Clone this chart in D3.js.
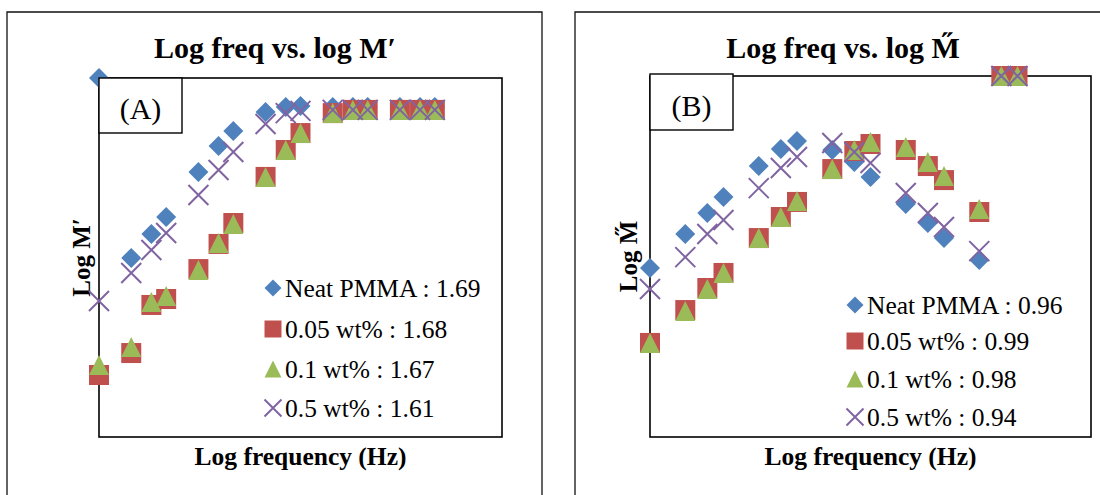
<!DOCTYPE html>
<html>
<head>
<meta charset="utf-8">
<script src="https://cdn.jsdelivr.net/npm/d3@7"></script>
<style>
  body { margin: 0; background: #fff; }
  svg { display: block; font-family: "Liberation Serif", "Times New Roman", serif; }
</style>
</head>
<body>
<div id="chart"></div>
<script>

// log frequency of each measuring point (1, 3, 6, 10, 30, 60 ... 100000 Hz)
var logFreq = [0, 0.48, 0.78, 1, 1.48, 1.78, 2, 2.48, 2.78, 3, 3.48, 3.78, 4, 4.48, 4.78, 5];

var seriesNames = ["Neat PMMA", "0.05 wt%", "0.1 wt%", "0.5 wt%"];
var slopesA = ["1.69", "1.68", "1.67", "1.61"];   // legend values, panel A
var slopesB = ["0.96", "0.99", "0.98", "0.94"];   // legend values, panel B

// panel A : log M'
var neatA = [-1.200, -2.102, -1.982, -1.897, -1.671, -1.541, -1.466, -1.370, -1.345, -1.340, -1.345, -1.345, -1.345, -1.345, -1.345, -1.345];
var wt005A = [-2.689, -2.579, -2.338, -2.308, -2.158, -2.032, -1.927, -1.696, -1.561, -1.476, -1.376, -1.360, -1.360, -1.360, -1.360, -1.360];
var wt01A = [-2.639, -2.549, -2.323, -2.293, -2.163, -2.027, -1.932, -1.696, -1.561, -1.476, -1.376, -1.360, -1.360, -1.360, -1.360, -1.360];
var wt05A = [-2.318, -2.178, -2.062, -1.977, -1.787, -1.661, -1.571, -1.431, -1.376, -1.365, -1.360, -1.360, -1.360, -1.360, -1.360, -1.360];

// panel B : log M''
var neatB = [-2.357, -2.188, -2.083, -2.003, -1.849, -1.764, -1.724, -1.769, -1.829, -1.904, -2.038, -2.133, -2.208, -2.318, null, null];
var wt005B = [-2.731, -2.567, -2.457, -2.382, -2.208, -2.103, -2.028, -1.864, -1.774, -1.739, -1.769, -1.849, -1.919, -2.078, -1.400, -1.400];
var wt01B = [-2.731, -2.572, -2.462, -2.382, -2.208, -2.103, -2.023, -1.864, -1.769, -1.729, -1.754, -1.829, -1.899, -2.063, -1.400, -1.400];
var wt05B = [-2.462, -2.303, -2.188, -2.118, -1.959, -1.859, -1.804, -1.734, -1.779, -1.834, -1.983, -2.083, -2.153, -2.273, -1.400, -1.400];

var colors = ["#4f81bd", "#c0504d", "#9bbb59", "#8064a2"];
var shapes = ["diamond", "square", "triangle", "cross"];

var width = 1100, height = 495;

var svg = d3.select("#chart").append("svg")
            .attr("width", width)
            .attr("height", height);

// marker outline, centred on 0,0
function markerPath(shape, s) {
  var h = s / 2;
  if (shape == "diamond") return "M0," + (-h) + "L" + h + ",0L0," + h + "L" + (-h) + ",0Z";
  if (shape == "square") return "M" + (-h) + "," + (-h) + "h" + s + "v" + s + "h" + (-s) + "Z";
  if (shape == "triangle") return "M0," + (-h) + "L" + h + "," + h + "L" + (-h) + "," + h + "Z";
  return "M" + (-h) + "," + (-h) + "L" + h + "," + h + "M" + h + "," + (-h) + "L" + (-h) + "," + h;
}

function drawMarker(g, shape, color, s) {
  var p = g.append("path").attr("d", markerPath(shape, s));
  if (shape == "cross") p.attr("fill", "none").attr("stroke", color).attr("stroke-width", 2);
  else p.attr("fill", color);
  return p;
}

function drawPanel(cfg) {

  // outer chart frame (no bottom edge visible)
  svg.append("path")
     .attr("d", "M" + cfg.frame[0] + "," + (height + 5) + "V" + cfg.frame[1] + "H" + cfg.frame[2] + "V" + (height + 5))
     .attr("fill", "none")
     .attr("stroke", "#111")
     .attr("stroke-width", 1.3);

  var x = d3.scaleLinear().domain([0, 6]).range([cfg.left, cfg.right]);
  var y = d3.scaleLinear().domain(cfg.yDomain).range([cfg.bottom, cfg.top]);

  svg.append("text")
     .attr("x", cfg.titleX).attr("y", 58)
     .attr("text-anchor", "middle")
     .attr("font-weight", "bold")
     .attr("font-size", 30)
     .text(cfg.title);

  svg.append("rect")
     .attr("x", cfg.left).attr("y", cfg.top)
     .attr("width", cfg.right - cfg.left)
     .attr("height", cfg.bottom - cfg.top)
     .attr("fill", "none")
     .attr("stroke", "#000")
     .attr("stroke-width", 1.6);

  svg.append("text")
     .attr("x", (cfg.left + cfg.right) / 2).attr("y", 465)
     .attr("text-anchor", "middle")
     .attr("font-weight", "bold")
     .attr("font-size", 25.5)
     .text("Log frequency (Hz)");

  svg.append("text")
     .attr("transform", "translate(" + cfg.yLabelX + "," + ((cfg.top + cfg.bottom) / 2) + ") rotate(-90)")
     .attr("text-anchor", "middle")
     .attr("font-weight", "bold")
     .attr("font-size", 25)
     .text(cfg.yLabel);

  // series, drawn in excel order so later ones sit on top
  cfg.series.forEach(function(vals, i) {
    var pts = logFreq.map(function(f, j) { return {f: f, v: vals[j]}; })
                     .filter(function(d) { return d.v != null; });
    var g = svg.append("g").attr("class", "series");
    g.selectAll("g")
     .data(pts)
     .enter().append("g")
     .attr("transform", function(d) { return "translate(" + x(d.f) + "," + y(d.v) + ")"; })
     .each(function() { drawMarker(d3.select(this), shapes[i], colors[i], 20); });
  });

  // panel letter box sits over the markers
  svg.append("rect")
     .attr("x", cfg.left).attr("y", cfg.boxTop)
     .attr("width", cfg.boxW).attr("height", cfg.boxH)
     .attr("fill", "#fff")
     .attr("stroke", "#000")
     .attr("stroke-width", 1.4);

  svg.append("text")
     .attr("x", cfg.left + cfg.boxW / 2).attr("y", cfg.boxTop + cfg.boxH / 2 + 13.5)
     .attr("text-anchor", "middle")
     .attr("font-size", 30)
     .text(cfg.letter);

  // legend
  seriesNames.forEach(function(name, i) {
    var ly = cfg.legendY[i];
    var g = svg.append("g").attr("transform", "translate(" + cfg.legendX + "," + ly + ")");
    drawMarker(g, shapes[i], colors[i], 17);
    g.append("text")
     .attr("x", 12).attr("y", 8.5)
     .attr("font-size", 25.5)
     .text(name + " : " + cfg.slopes[i]);
  });
}

drawPanel({
  frame: [7, 12, 542],
  left: 99, right: 502, top: 78, bottom: 437,
  yDomain: [-3.0, -1.2],
  title: "Log freq vs. log M\u2032",
  titleX: 275,
  yLabel: "Log M\u2032",
  yLabelX: 90,
  letter: "(A)",
  boxTop: 78, boxW: 83, boxH: 55,
  series: [neatA, wt005A, wt01A, wt05A],
  slopes: slopesA,
  legendX: 273,
  legendY: [288, 329, 369, 408]
});

drawPanel({
  frame: [575, 12, 1112],
  left: 650, right: 1091, top: 76, bottom: 437,
  yDomain: [-3.2, -1.4],
  title: "Log freq vs. log M\u030B",
  titleX: 843,
  yLabel: "Log M\u030B",
  yLabelX: 637,
  letter: "(B)",
  boxTop: 74, boxW: 83, boxH: 56,
  series: [neatB, wt005B, wt01B, wt05B],
  slopes: slopesB,
  legendX: 855,
  legendY: [305, 341, 379, 417]
});

</script>
</body>
</html>
